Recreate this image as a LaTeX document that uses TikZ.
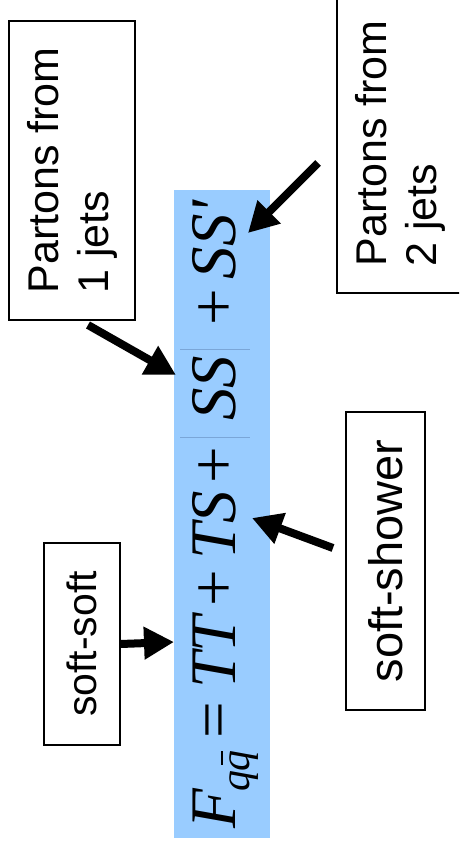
\documentclass[tikz,border=0pt]{standalone}
\usepackage{fontspec}
\setmainfont{Liberation Sans}
\newfontfamily\tms{Liberation Serif}
\usetikzlibrary{arrows.meta}
\definecolor{skyfill}{RGB}{153,204,255}
\definecolor{faint}{RGB}{110,150,200}
\begin{document}
\begin{tikzpicture}[x=1pt,y=-1pt,
  lblbox/.style={draw, line width=1.3pt, rotate=90, fill=white,
    font=\fontsize{43}{50}\selectfont, align=left, inner sep=0pt},
  mth/.style={rotate=90, anchor=base, inner sep=0pt,
    font=\tms\itshape\fontsize{65}{65}\selectfont},
  opr/.style={rotate=90, anchor=base, inner sep=0pt,
    font=\tms\fontsize{65}{65}\selectfont},
  bigarrow/.style={line width=8pt, -{Triangle[length=30pt,width=31pt]}}]
\useasboundingbox (0,0) rectangle (459,854);
\clip (0,0) rectangle (459,854);
% blue band
\fill[skyfill] (174,190) rectangle (270,838);
% faint equation box lines
\draw[faint, line width=0.5pt, opacity=0.7] (180,349) -- (250,349) (180,437) -- (250,437);
% formula pieces
\node[mth] (F) at (235,809) {F};
\node[mth] (sub) at (249,771) {\fontsize{42}{42}\selectfont q\kern-1pt\rlap{\kern0.16em\raisebox{0.62em}{\rule{0.34em}{0.055em}}}q};
\node[opr] (eq) at (235,720) {=};
\node[mth] (TT) at (235,652) {TT};
\node[opr] (p1) at (235,588) {+};
\node[mth] (TS) at (235,525) {TS};
\node[opr] (p2) at (235,465) {+};
\node[mth] (SS) at (235,388) {SS};
\node[opr] (p3) at (235,307) {+};
\node[mth] (SSp) at (235,240) {SS'};
% label boxes
\node[lblbox, minimum width=299pt, minimum height=126pt] (j1) at (72,170.5) {Partons from\hspace{16pt}\\1 jets};
\node[lblbox, minimum width=299pt, minimum height=126pt] (j2) at (400,143.5) {Partons from\hspace{18pt}\\2 jets};
\node[lblbox, minimum width=202pt, minimum height=76pt, font=\fontsize{41}{48}\selectfont] (ss) at (82,644) {soft-soft};
\node[lblbox, minimum width=298pt, minimum height=79pt, font=\fontsize{47}{54}\selectfont] (sh) at (385.5,561) {soft-shower};
% arrow ends
\coordinate (a1s) at (88,325);  \coordinate (a1e) at (176,375);
\coordinate (a2s) at (318,163); \coordinate (a2e) at (248,233);
\coordinate (a3e) at (174,642);
\coordinate (a4s) at (333,548); \coordinate (a4e) at (252,518);
\draw[bigarrow] (a1s) -- (a1e);
\draw[bigarrow] (a2s) -- (a2e);
\draw[bigarrow] (ss.south) -- (a3e);
\draw[bigarrow] (a4s) -- (a4e);
\end{tikzpicture}
\end{document}
